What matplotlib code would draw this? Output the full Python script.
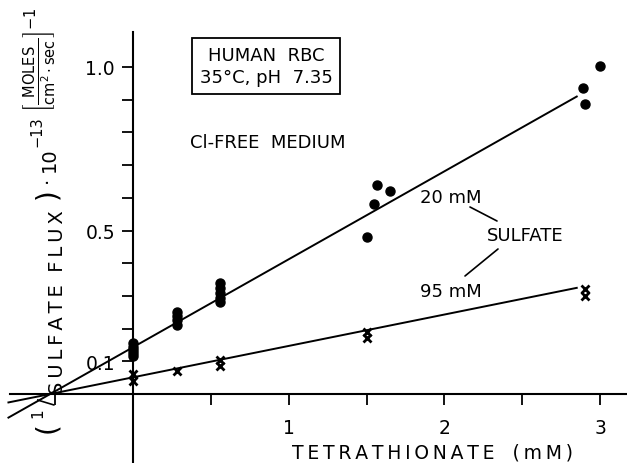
import matplotlib
matplotlib.use("Agg")
import matplotlib.pyplot as plt
import numpy as np

plt.rcParams['font.family'] = ['DejaVu Sans']
plt.rcParams['mathtext.fontset'] = 'dejavusans'
plt.rcParams['mathtext.default'] = 'regular'

# --- data ---
x_20 = [0, 0, 0, 0, 0, 0.28, 0.28, 0.28, 0.28, 0.56, 0.56, 0.56, 0.56, 0.56,
        1.5, 1.55, 1.57, 1.65, 2.89, 2.9, 3.0]
y_20 = [0.115, 0.125, 0.135, 0.145, 0.155, 0.21, 0.225, 0.24, 0.25,
        0.28, 0.295, 0.31, 0.325, 0.34, 0.48, 0.58, 0.64, 0.62, 0.936, 0.887, 1.003]
x_95 = [0, 0, 0.28, 0.56, 0.56, 1.5, 1.5, 2.9, 2.9]
y_95 = [0.04, 0.06, 0.07, 0.085, 0.105, 0.17, 0.19, 0.30, 0.32]
fit_20 = (0.143, 0.269)   # intercept, slope
fit_95 = (0.051, 0.096)
fit_x_range = (-0.8, 2.85)
ytick_vals = [0.1, 0.2, 0.3, 0.4, 0.5, 0.6, 0.7, 0.8, 0.9, 1.0]
ytick_labels = ['0.1', '', '', '', '0.5', '', '', '', '', '1.0']
xtick_vals = [-0.5, 0.5, 1, 1.5, 2, 2.5, 3]
xtick_labels = ['', '', '1', '', '2', '', '3']

fig = plt.figure(figsize=(6.27, 4.64), dpi=100)
ax = fig.add_axes([0, 0, 1, 1])

X0, SX, Y0, SY = 133, 155.7, 395, 327
def px(x, y):
    return ((x - X0) / SX, (Y0 - y) / SY)

def spaced(s, sep='\u2009'):
    return sep.join(s)

ax.set_xlim(px(0, 0)[0], px(627, 0)[0])
ax.set_ylim(px(0, 464)[1], px(0, 0)[1])

for s in ['top', 'right']:
    ax.spines[s].set_visible(False)
ax.spines['left'].set_position(('data', 0))
ax.spines['bottom'].set_position(('data', 0))
ax.spines['left'].set_bounds(px(0, 470)[1], px(0, 33)[1])
ax.spines['bottom'].set_bounds(px(10, 0)[0], px(627, 0)[0])
for s in ['left', 'bottom']:
    ax.spines[s].set_linewidth(1.5)

ax.set_yticks(ytick_vals)
ax.set_yticklabels(ytick_labels)
ax.set_xticks(xtick_vals)
ax.set_xticklabels(xtick_labels)
ax.tick_params(axis='y', direction='out', length=8, width=1.3, labelsize=13.5, pad=5)
ax.tick_params(axis='x', direction='out', length=8, width=1.3, labelsize=13.5, pad=9)

# fitted lines
xf = np.array(fit_x_range)
ax.plot(xf, fit_20[0] + fit_20[1] * xf, color='black', lw=1.4)
ax.plot(xf, fit_95[0] + fit_95[1] * xf, color='black', lw=1.4)

ax.plot(x_20, y_20, 'o', color='black', ms=6.5, ls='none')
ax.plot(x_95, y_95, 'x', color='black', ms=5.5, mew=2, ls='none')

# text
ax.text(*px(292, 453), spaced('TETRATHIONATE') + '   ' + spaced('(mM)'),
        fontsize=13.5, ha='left', va='center')
ax.text(*px(266, 67), 'HUMAN  RBC\n35°C, pH  7.35', fontsize=13, ha='center',
        va='center', linespacing=1.35,
        bbox=dict(boxstyle='square,pad=0.4', fc='white', ec='black', lw=1.3))
ax.text(*px(190, 143), 'Cl-FREE  MEDIUM', fontsize=13, ha='left', va='center')
ax.text(*px(451, 198), '20 mM', fontsize=13, ha='center', va='center')
ax.text(*px(525, 236), 'SULFATE', fontsize=13, ha='center', va='center')
ax.text(*px(451, 292), '95 mM', fontsize=13, ha='center', va='center')
ax.annotate('', xy=px(470, 208), xytext=px(497, 222),
            arrowprops=dict(arrowstyle='-', lw=1.2, color='black', shrinkA=0, shrinkB=0))
ax.annotate('', xy=px(498, 250), xytext=px(465, 277),
            arrowprops=dict(arrowstyle='-', lw=1.2, color='black', shrinkA=0, shrinkB=0))

# y label, built from pieces (rotated)
rk = dict(rotation=90, rotation_mode='anchor', va='center')
ax.text(*px(47, 428), '(', fontsize=20, ha='center', **rk)
ax.text(*px(38, 413), '1', fontsize=11, ha='center', **rk)
ax.text(*px(47, 402), '/', fontsize=15, ha='center', **rk)
ax.text(*px(57, 394), spaced('SULFATE') + '  ' + spaced('FLUX'), fontsize=14, ha='left', **rk)
ax.text(*px(47, 194), ')', fontsize=20, ha='center', **rk)
ax.text(*px(47, 180), '·', fontsize=14, ha='center', **rk)
ax.text(*px(49, 172), '10', fontsize=14, ha='left', **rk)
ax.text(*px(37, 147), '−13', fontsize=10.5, ha='left', **rk)
ax.text(*px(40, 60), r"$\left[\frac{MOLES}{cm^2\cdot sec}\right]^{-1}$",
        fontsize=15, ha='center', rotation=90, va='center')

fig.savefig('out.png', dpi=100)
